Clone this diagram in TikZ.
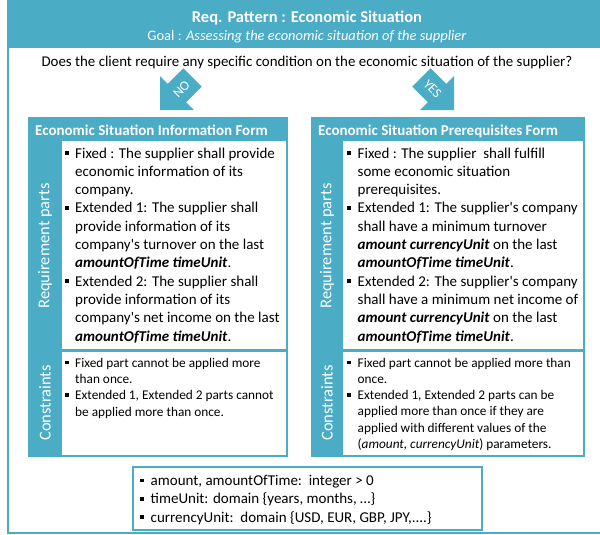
\documentclass[tikz,border=0pt]{standalone}
\usepackage{fontspec}
\setmainfont{Carlito}
\definecolor{acc}{HTML}{4BACC6}
\newcommand{\sqb}{\rule[0.2em]{3.8pt}{3.8pt}}
\newcommand{\bl}{\llap{\sqb\hspace{6.5pt}}}
\newcommand{\bi}[1]{\textbf{\textit{#1}}}
\newcommand{\aps}{\textquotesingle}
\tikzset{
  body/.style={anchor=base west, inner sep=0pt, align=left, font=\fontsize{15}{18.3}\selectfont},
  smallbody/.style={anchor=base west, inner sep=0pt, align=left, font=\fontsize{13.3}{16.3}\selectfont},
  ptitle/.style={anchor=base west, inner sep=0pt, text=white, font=\bfseries\fontsize{15}{18}\selectfont},
  vlabel/.style={rotate=90, inner sep=0pt, text=white, font=\fontsize{16.5}{20}\selectfont},
  arrowtext/.style={inner sep=0pt, text=white, font=\fontsize{13.5}{15}\selectfont},
  blockarrow/.style={fill=acc},
}
\begin{document}
\begin{tikzpicture}[x=1pt,y=-1pt]
\useasboundingbox (0,0) rectangle (600,535);
\clip (0,0) rectangle (600,535);
% header band and outer frame
\fill[acc] (7,0) rectangle (612,48);
\draw[acc, line width=2pt] (8,1) rectangle (612,533);
\node[inner sep=0pt, text=white, font=\bfseries\fontsize{16.5}{20}\selectfont] (title) at (307,18) {Req. Pattern : Economic Situation};
\node[inner sep=0pt, text=white, font=\fontsize{14.5}{17}\selectfont] (goal) at (307,37) {Goal : \textit{Assessing the economic situation of the supplier}};
\node[inner sep=0pt, font=\fontsize{14.9}{17}\selectfont] (question) at (307,63) {Does the client require any specific condition on the economic situation of the supplier?};
% arrows
\path[blockarrow, shift={(160,110)}, rotate=225] (0,0) -- (-24,24) -- (-24,13) -- (-46,13) -- (-46,-13) -- (-24,-13) -- (-24,-24) -- cycle;
\node[arrowtext, rotate=45] (no) at (181.5,89) {NO};
\path[blockarrow, shift={(454,110)}, rotate=-45] (0,0) -- (-24,24) -- (-24,13) -- (-46,13) -- (-46,-13) -- (-24,-13) -- (-24,-24) -- cycle;
\node[arrowtext, rotate=-45] (yes) at (432.5,89) {YES};
% left panel
\fill[acc] (28,117) rectangle (288,457);
\fill[white] (62,141) rectangle (286,348.5);
\fill[white] (62,351.5) rectangle (286,455);
\node[ptitle] (ltitle) at (35,135) {Economic Situation Information Form};
\node[vlabel] (lreq) at (45,246) {Requirement parts};
\node[vlabel] (lcon) at (45,403) {Constraints};
\node[body] (lreqtext) at (75,341) {\bl Fixed : The supplier shall provide\\economic information of its\\company.\\\bl Extended 1: The supplier shall\\provide information of its\\company\aps s turnover on the last\\\bi{amountOfTime timeUnit}.\\\bl Extended 2: The supplier shall\\provide information of its\\company\aps s net income on the last\\\bi{amountOfTime timeUnit}.};
\node[smallbody] (lcontext) at (75,416) {\bl Fixed part cannot be applied more\\than once.\\\bl Extended 1, Extended 2 parts cannot\\be applied more than once.};
% right panel
\fill[acc] (311,117) rectangle (585,457);
\fill[white] (343,141) rectangle (583,348.5);
\fill[white] (343,351.5) rectangle (583,455);
\node[ptitle] (rtitle) at (318,135) {Economic Situation Prerequisites Form};
\node[vlabel] (rreq) at (327,246) {Requirement parts};
\node[vlabel] (rcon) at (327,403) {Constraints};
\node[body] (rreqtext) at (357.5,341) {\bl Fixed : The supplier\ \ shall fulfill\\some economic situation\\prerequisites.\\\bl Extended 1: The supplier\aps s company\\shall have a minimum turnover\\\bi{amount currencyUnit} on the last\\\bi{amountOfTime timeUnit}.\\\bl Extended 2: The supplier\aps s company\\shall have a minimum net income of\\\bi{amount currencyUnit} on the last\\\bi{amountOfTime timeUnit}.};
\node[smallbody] (rcontext) at (357.5,448.5) {\bl Fixed part cannot be applied more than\\once.\\\bl Extended 1, Extended 2 parts can be\\applied more than once if they are\\applied with different values of the\\(\textit{amount, currencyUnit}) parameters.};
% legend
\node[draw=acc, line width=1.5pt, fill=white, minimum width=349pt, minimum height=63pt, anchor=north west, inner sep=0pt] (legendbox) at (132,466) {};
\node[body] (legend) at (150.5,522) {\bl amount, amountOfTime:\ \ integer > 0\\\bl timeUnit: domain \{years, months, …\}\\\bl currencyUnit:\ \ domain \{USD, EUR, GBP, JPY,....\}};
\end{tikzpicture}
\end{document}
